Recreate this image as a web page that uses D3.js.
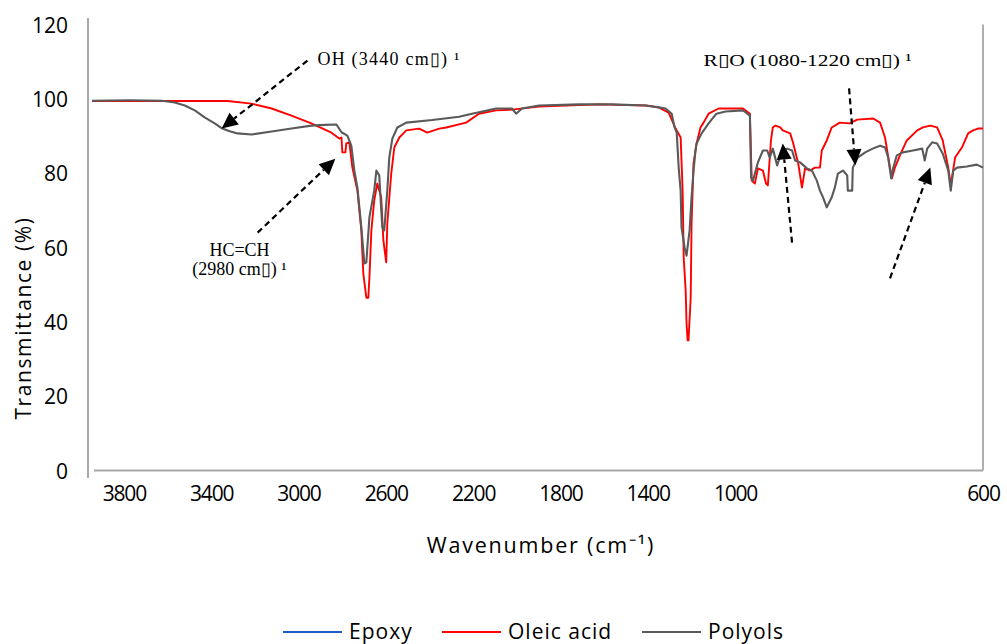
<!DOCTYPE html>
<html><head><meta charset="utf-8">
<script src="https://cdn.jsdelivr.net/npm/d3@7"></script>
<style>
html,body{margin:0;padding:0;background:#fff;}
svg{display:block;}
</style></head>
<body>
<svg id="chart" width="1007" height="644"></svg>
<script>
// ---------- data ----------
const xTickValues = [3800, 3400, 3000, 2600, 2200, 1800, 1400, 1000, 600];
const yTickValues = [0, 20, 40, 60, 80, 100, 120];
const seriesNames = ["Epoxy", "Oleic acid", "Polyols"];

// Oleic acid: [wavenumber, transmittance]
const oleicAcid = [
[3946,99.4],[3773,99.4],[3325,99.4],[3215,98.7],[3123,97.4],[3032,95.5],[2941,93.4],[2849,90.9],
[2813,89.3],[2803,89.6],[2799,85.6],[2785,85.6],[2781,88.0],[2767,88.3],[2753,81.5],[2730,75.3],
[2712,64.6],[2703,53.0],[2689,46.5],[2680,46.5],[2675,51.9],[2666,64.6],[2653,72.6],[2639,77.2],
[2621,73.5],[2611,61.9],[2598,56.0],[2593,66.5],[2575,79.9],[2561,86.9],[2538,89.6],[2506,91.5],
[2447,92.0],[2410,90.9],[2355,92.0],[2323,92.3],[2232,93.6],[2173,96.0],[2095,96.9],[2022,97.1],
[1898,97.9],[1624,98.5],[1409,98.2],[1350,97.7],[1304,96.3],[1272,92.0],[1249,89.6],[1240,75.3],
[1235,57.3],[1226,48.4],[1222,39.6],[1217,35.0],[1213,35.0],[1203,46.5],[1199,66.5],[1190,82.6],
[1176,88.0],[1158,92.3],[1144,93.6],[1121,96.0],[1075,97.4],[987,97.4],[976,96.0],[973,78.0],
[968,77.2],[963,81.3],[955,80.7],[950,77.2],[947,76.7],[942,88.8],[939,92.3],[935,92.8],
[927,92.3],[923,91.5],[911,90.7],[906,88.0],[898,82.6],[892,76.1],[887,81.3],[879,80.7],
[871,81.5],[863,81.5],[860,86.1],[852,88.8],[844,92.3],[831,93.6],[815,93.4],[803,94.4],
[777,94.7],[766,93.6],[758,89.6],[750,81.5],[747,78.6],[742,81.5],[734,84.8],[723,88.8],
[706,91.5],[697,92.3],[685,92.8],[674,92.3],[665,88.8],[656,81.5],[652,76.7],[645,84.2],
[634,86.9],[624,90.7],[616,91.5],[608,92.0],[600,92.0]
];

// Polyols: [wavenumber, transmittance]
const polyols = [
[3946,99.5],[3773,99.6],[3626,99.5],[3567,99.0],[3521,98.2],[3475,96.9],[3430,95.0],[3384,93.4],
[3352,92.1],[3315,91.3],[3279,90.7],[3215,90.4],[3123,91.2],[3032,92.0],[2941,92.8],[2881,93.0],
[2826,93.1],[2803,91.0],[2776,90.1],[2758,87.4],[2744,80.7],[2730,76.1],[2712,65.4],[2698,55.7],
[2689,56.0],[2675,68.1],[2653,75.3],[2643,80.7],[2630,79.4],[2616,65.4],[2607,64.6],[2593,75.3],
[2584,84.2],[2570,89.3],[2547,92.3],[2506,93.6],[2387,94.3],[2264,95.2],[2205,96.0],[2095,97.4],
[2022,97.4],[2003,96.0],[1976,97.4],[1898,98.2],[1715,98.5],[1565,98.5],[1409,98.2],[1350,97.7],
[1318,97.4],[1290,96.0],[1277,92.3],[1267,90.9],[1258,81.5],[1249,75.3],[1245,65.4],[1231,60.0],
[1222,57.8],[1208,64.6],[1199,73.5],[1190,80.7],[1181,86.1],[1176,88.0],[1153,90.7],[1121,93.4],
[1085,96.0],[1043,96.6],[987,96.9],[976,95.5],[974,78.8],[971,78.0],[963,82.9],[955,86.1],
[948,86.1],[944,84.2],[939,86.6],[932,82.1],[924,86.1],[916,86.6],[908,86.1],[903,83.4],
[895,82.9],[884,81.3],[876,80.7],[868,78.0],[863,75.3],[858,73.5],[852,70.8],[844,73.5],
[839,76.1],[834,79.9],[826,80.7],[819,79.4],[818,75.3],[811,75.3],[810,81.5],[802,84.2],
[790,85.6],[778,86.6],[766,87.4],[758,86.9],[753,84.2],[748,78.6],[745,81.3],[739,84.8],
[729,85.6],[713,86.1],[698,86.6],[694,83.4],[690,86.6],[682,88.3],[674,88.0],[665,85.3],
[656,80.7],[652,75.3],[648,80.7],[642,81.5],[626,81.8],[610,82.3],[600,81.5]
];

// annotation labels and arrows (data units: wavenumber, transmittance)
const annotationTexts = ["OH (3440 cm\u25AF) \u00B9", "R\u25AFO (1080-1220 cm\u25AF) \u00B9", "HC=CH", "(2980 cm\u25AF) \u00B9"];
const arrowFrom = [[2959,110.3],[3187,64.0],[816,102.8],[908,61.3],[750,51.7]];
const arrowTo   = [[3352,92.0],[2831,83.9],[806,82.1],[923,88.0],[685,81.5]];

// ---------- drawing ----------
const svg = d3.select("#chart");
const x = d3.scaleLinear().domain([3946, 1000, 600]).range([92, 735, 983]);
const y = d3.scaleLinear().domain([0, 120]).range([470.5, 24.5]);

const colors = {"Epoxy":"#1f5bc6","Oleic acid":"#ff0000","Polyols":"#5a5a5a"};

// axis frame
svg.append("line").attr("x1",88).attr("x2",88).attr("y1",18).attr("y2",478)
  .attr("stroke","#8c8c8c").attr("stroke-width",1.5);
svg.append("line").attr("x1",94).attr("x2",983).attr("y1",y(0)).attr("y2",y(0))
  .attr("stroke","#a6a6a6").attr("stroke-width",1.8);
svg.append("line").attr("x1",x(600)).attr("x2",x(600)).attr("y1",y(120)).attr("y2",y(0))
  .attr("stroke","#a6a6a6").attr("stroke-width",1.8);

// x axis labels
const xAxis = d3.axisBottom(x).tickValues(xTickValues).tickSize(0).tickPadding(0).tickFormat(d3.format("d"));
const gx = svg.append("g").attr("transform","translate(0,486)").call(xAxis);
gx.select(".domain").remove();
gx.selectAll("text").attr("font-family","'Open Sans', sans-serif").attr("font-size",21)
  .attr("fill","#000").attr("letter-spacing","-1.2px").attr("dy","0.71em");

// y axis labels
const yAxis = d3.axisLeft(y).tickValues(yTickValues).tickSize(0).tickPadding(0);
const gy = svg.append("g").attr("transform","translate(68,0)").call(yAxis);
gy.select(".domain").remove();
gy.selectAll("text").attr("font-family","'Open Sans', sans-serif").attr("font-size",21)
  .attr("fill","#000").attr("dy","0.36em");

// axis titles
svg.append("text").attr("x",541).attr("y",553).attr("text-anchor","middle")
  .attr("font-family","'Open Sans', sans-serif").attr("font-size",21.5).attr("letter-spacing","1.8px")
  .text("Wavenumber (cm\u207B\u00B9)");
svg.append("text").attr("transform","translate(31,318) rotate(-90)").attr("text-anchor","middle")
  .attr("font-family","'Open Sans', sans-serif").attr("font-size",21).attr("letter-spacing","1.6px")
  .text("Transmittance (%)");

// series lines
const line = d3.line().x(d => x(d[0])).y(d => y(d[1]));
svg.append("path").datum(oleicAcid).attr("d",line).attr("fill","none")
  .attr("stroke",colors["Oleic acid"]).attr("stroke-width",1.9).attr("stroke-linejoin","round");
svg.append("path").datum(polyols).attr("d",line).attr("fill","none")
  .attr("stroke",colors["Polyols"]).attr("stroke-width",2.1).attr("stroke-linejoin","round");

// arrows
arrowFrom.forEach((f, i) => {
  const t = arrowTo[i];
  const x1 = x(f[0]), y1 = y(f[1]), x2 = x(t[0]), y2 = y(t[1]);
  const dx = x2 - x1, dy = y2 - y1, len = Math.hypot(dx, dy);
  const ux = dx/len, uy = dy/len, L = 16, W = 7.5;
  const bx = x2 - ux*L, by = y2 - uy*L;
  svg.append("line").attr("x1",x1).attr("y1",y1).attr("x2",bx).attr("y2",by)
    .attr("stroke","#000").attr("stroke-width",2.2).attr("stroke-dasharray","6,4");
  svg.append("path").attr("d",`M${x2},${y2}L${bx - uy*W},${by + ux*W}L${bx + uy*W},${by - ux*W}Z`)
    .attr("fill","#000");
});

// annotation texts
const serif = "'Liberation Serif', 'Times New Roman', serif";
svg.append("text").attr("x",x(2913)).attr("y",y(109.0)).attr("font-family",serif).attr("font-size",18)
  .attr("textLength",142).attr("lengthAdjust","spacing").text(annotationTexts[0]);
svg.append("text").attr("x",x(1144)).attr("y",y(108.7)).attr("font-family",serif).attr("font-size",17)
  .attr("textLength",208).attr("lengthAdjust","spacingAndGlyphs").text(annotationTexts[1]);
svg.append("text").attr("x",x(3270)).attr("y",y(57.6)).attr("text-anchor","middle").attr("font-family",serif).attr("font-size",18)
  .text(annotationTexts[2]);
svg.append("text").attr("x",x(3270)).attr("y",y(52.6)).attr("text-anchor","middle").attr("font-family",serif).attr("font-size",18)
  .text(annotationTexts[3]);

// legend
const legendX = [283, 442, 642];
seriesNames.forEach((name, i) => {
  const g = svg.append("g").attr("transform",`translate(${legendX[i]},632)`);
  g.append("line").attr("x1",0).attr("x2",59).attr("y1",0).attr("y2",0)
    .attr("stroke",colors[name]).attr("stroke-width",2);
  g.append("text").attr("x",66).attr("y",7).attr("font-family","'Open Sans', sans-serif")
    .attr("font-size",21).attr("letter-spacing","1px").text(name);
});
</script>
</body></html>
